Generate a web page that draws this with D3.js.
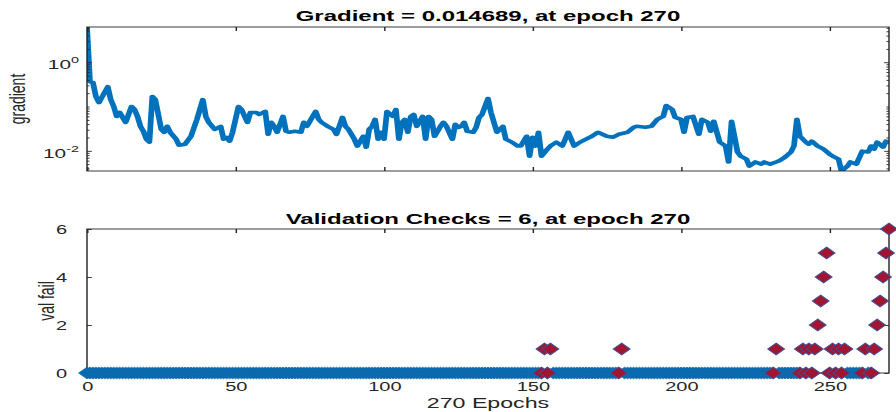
<!DOCTYPE html>
<html>
<head>
<meta charset="utf-8">
<script src="https://cdn.jsdelivr.net/npm/d3@7"></script>
<style>
  body { margin: 0; background: #fff; }
  svg { display: block; }
</style>
</head>
<body>
<script>
// gradient per epoch
const gradEpochs = [0, 1, 2, 3, 4, 7, 8, 9, 10, 11, 13, 15, 16, 17, 18, 19, 20, 21, 22, 23,
  25, 26, 27, 28, 30, 31, 33, 35, 37, 39, 40, 41, 43, 45, 46, 47, 48, 49, 51, 52,
  54, 55, 57, 58, 60, 61, 62, 63, 64, 66, 67, 68, 70, 72, 73, 74, 76, 77, 78, 79,
  81, 83, 84, 86, 87, 88, 90, 91, 93, 94, 95, 96, 97, 98, 99, 100, 101, 103, 104, 105,
  106, 107, 108, 109, 110, 111, 113, 114, 115, 116, 117, 118, 119, 120, 121, 123, 124, 125, 126, 127,
  128, 130, 131, 132, 133, 134, 135, 136, 137, 138, 140, 141, 143, 145, 146, 148, 149, 150, 151, 152,
  153, 155, 156, 158, 160, 161, 162, 164, 166, 168, 170, 172, 175, 177, 179, 182, 184, 185, 188, 190,
  192, 194, 195, 197, 198, 200, 201, 202, 204, 206, 207, 209, 210, 211, 213, 215, 216, 217, 219, 220,
  222, 223, 225, 227, 228, 230, 232, 233, 235, 237, 238, 239, 240, 242, 243, 244, 246, 248, 250, 251,
  253, 254, 256, 257, 259, 261, 263, 264, 265, 266, 268, 269, 270];
const gradValues = [6.25, 0.362, 0.35, 0.168, 0.123, 0.28, 0.143, 0.1, 0.0597, 0.0734, 0.0439, 0.1, 0.0857, 0.0597, 0.0357, 0.0276, 0.0183, 0.0157, 0.168, 0.143,
  0.0306, 0.0262, 0.0357, 0.0262, 0.0183, 0.0134, 0.0141, 0.0213, 0.0512, 0.143, 0.0597, 0.0439, 0.0306, 0.0357, 0.0183, 0.0202, 0.0165, 0.0262, 0.1, 0.0857,
  0.0439, 0.0734, 0.0734, 0.0662, 0.0773, 0.0236, 0.0439, 0.0357, 0.0262, 0.0597, 0.0276, 0.0262, 0.0276, 0.0262, 0.0439, 0.0357, 0.0597, 0.0773, 0.0512, 0.0439,
  0.0357, 0.0306, 0.0236, 0.0567, 0.0357, 0.0306, 0.0183, 0.0128, 0.0213, 0.0121, 0.0306, 0.0357, 0.0512, 0.0183, 0.0262, 0.0183, 0.0773, 0.0597, 0.0857, 0.0183,
  0.0439, 0.0512, 0.0262, 0.0597, 0.0662, 0.0357, 0.0597, 0.0183, 0.0597, 0.0512, 0.0213, 0.0276, 0.0357, 0.0439, 0.0357, 0.0183, 0.0396, 0.0339, 0.0357, 0.0439,
  0.0276, 0.0262, 0.0339, 0.0567, 0.0662, 0.1, 0.151, 0.0734, 0.0439, 0.0262, 0.0357, 0.0183, 0.0157, 0.0128, 0.0128, 0.0213, 0.0076, 0.0202, 0.0128, 0.0262,
  0.0076, 0.0109, 0.0128, 0.0157, 0.0128, 0.0183, 0.0262, 0.0128, 0.0157, 0.0183, 0.0213, 0.0262, 0.0213, 0.0202, 0.0236, 0.0262, 0.0339, 0.0357, 0.0339, 0.0357,
  0.0512, 0.0597, 0.105, 0.0857, 0.0567, 0.0512, 0.0262, 0.0567, 0.0597, 0.0236, 0.0512, 0.0439, 0.0276, 0.0462, 0.0157, 0.0128, 0.0056, 0.0462, 0.0094, 0.0076,
  0.0065, 0.0045, 0.0056, 0.005, 0.0056, 0.005, 0.0056, 0.0059, 0.0072, 0.0094, 0.0128, 0.0512, 0.0213, 0.0157, 0.0141, 0.0165, 0.0128, 0.0109, 0.0084, 0.0076,
  0.0065, 0.0035, 0.0045, 0.0056, 0.005, 0.0098, 0.0094, 0.0128, 0.0109, 0.0157, 0.0121, 0.0165, 0.0147];

// validation failures: every epoch not listed here is 0
const failEpochs = [154, 156, 180, 232, 241, 243, 245, 246, 247, 248, 249, 251, 253, 255, 262, 265, 266, 267, 268, 269, 270];
const failValues = [1, 1, 1, 1, 1, 1, 1, 2, 3, 4, 5, 1, 1, 1, 1, 1, 2, 3, 4, 5, 6];

const lastEpoch = 270;
const xTicks = [0, 50, 100, 150, 200, 250];
const gradTicks = [0.01, 1];
const failTicks = [0, 2, 4, 6];
const topTitle = "Gradient = 0.014689, at epoch 270";
const bottomTitle = "Validation Checks = 6, at epoch 270";
const xLabel = "270 Epochs";

const W = 896, H = 412;
const sx = 1.6; // the original figure is stretched sideways
const font = '"Liberation Sans", Arial, Helvetica, sans-serif';
const ink = "#262626";
const blue = "#0072BD", red = "#A2142F";

const svg = d3.select("body").append("svg")
  .attr("width", W)
  .attr("height", H)
  .style("font-family", font);
const root = svg.append("g").attr("transform", `scale(${sx},1)`);

const x = d3.scaleLinear().domain([0, lastEpoch]).range([87 / sx, 889 / sx]);
const [x0, x1] = x.range();
const midX = (x0 + x1) / 2;

const frame = (g, top, bottom) => g.append("rect")
  .attr("x", x0).attr("y", top)
  .attr("width", x1 - x0).attr("height", bottom - top)
  .attr("fill", "none").attr("stroke", ink).attr("stroke-width", 0.9);

const ticks = (g, axis, tr, size) => {
  const a = g.append("g").attr("transform", tr).call(axis);
  a.attr("font-family", font).attr("font-size", size || 12.5);
  a.select(".domain").remove();
  a.selectAll("line").attr("stroke", ink).attr("stroke-width", 0.9);
  a.selectAll("text").attr("fill", ink);
  return a;
};

// ---------- gradient panel ----------
const t1 = 27, b1 = 171;
const y1 = d3.scaleLog().domain(d3.extent(gradValues)).range([b1, t1]);
const g1 = root.append("g");

svg.append("defs").append("clipPath").attr("id", "clip1")
  .append("rect").attr("x", x0).attr("y", t1).attr("width", x1 - x0).attr("height", b1 - t1);

const line = d3.line()
  .x((d, i) => x(gradEpochs[i]))
  .y(d => y1(d));

g1.append("path")
  .datum(gradValues)
  .attr("clip-path", "url(#clip1)")
  .attr("d", line)
  .attr("fill", "none")
  .attr("stroke", blue)
  .attr("stroke-width", 3.6)
  .attr("stroke-linejoin", "round");

frame(g1, t1, b1);
ticks(g1, d3.axisBottom(x).tickValues(xTicks).tickSize(-4).tickFormat(""), `translate(0,${b1})`);
ticks(g1, d3.axisTop(x).tickValues(xTicks).tickSize(-4).tickFormat(""), `translate(0,${t1})`);

const minor = y1.ticks().filter(v => !gradTicks.includes(v));
ticks(g1, d3.axisLeft(y1).tickValues(minor).tickSize(-1.6).tickFormat(""), `translate(${x0},0)`);
ticks(g1, d3.axisLeft(y1).tickValues(gradTicks).tickSize(-3).tickFormat(""), `translate(${x0},0)`);
ticks(g1, d3.axisRight(y1).tickValues(minor).tickSize(-1.6).tickFormat(""), `translate(${x1},0)`);
ticks(g1, d3.axisRight(y1).tickValues(gradTicks).tickSize(-3).tickFormat(""), `translate(${x1},0)`);

g1.selectAll("text.pow")
  .data(gradTicks)
  .join("text")
  .attr("class", "pow")
  .attr("x", x0 - 5)
  .attr("y", d => y1(d) + 7)
  .attr("text-anchor", "end")
  .attr("font-size", 13)
  .attr("fill", ink)
  .each(function (d) {
    const t = d3.select(this);
    t.append("tspan").text("10");
    t.append("tspan").attr("dy", -6).attr("font-size", 9).text(Math.round(Math.log10(d)));
  });

g1.append("text")
  .attr("transform", `translate(15.5,${(t1 + b1) / 2}) rotate(-90)`)
  .attr("text-anchor", "middle")
  .attr("font-size", 14)
  .attr("fill", ink)
  .text("gradient");

g1.append("text")
  .attr("x", midX).attr("y", 21.5)
  .attr("text-anchor", "middle")
  .attr("font-size", 15).attr("font-weight", "bold")
  .attr("fill", "#000")
  .text(topTitle);

// ---------- validation checks panel ----------
const t2 = 229, b2 = 373;
const y2 = d3.scaleLinear().domain([0, 6]).range([b2, t2]);
const g2 = root.append("g");

frame(g2, t2, b2);
ticks(g2, d3.axisBottom(x).tickValues(xTicks).tickSize(-4).tickPadding(9), `translate(0,${b2})`);
ticks(g2, d3.axisTop(x).tickValues(xTicks).tickSize(-4).tickFormat(""), `translate(0,${t2})`);
ticks(g2, d3.axisLeft(y2).tickValues(failTicks).tickSize(-3).tickPadding(12.5).tickFormat(d3.format("d")), `translate(${x0},0)`);
ticks(g2, d3.axisRight(y2).tickValues(failTicks).tickSize(-3).tickFormat(""), `translate(${x1},0)`);

const fails = d3.range(0, lastEpoch + 1).map(e => {
  const k = failEpochs.indexOf(e);
  return { epoch: e, val: k < 0 ? 0 : failValues[k] };
});
fails.forEach((d, i) => {
  const next = fails[i + 1];
  d.hot = d.val > 0 || (next && next.val > 0);
});

const diamond = {
  draw(p, size) {
    const w = Math.sqrt(size) / 2, h = w * 1.12;
    p.moveTo(0, -h);
    p.lineTo(w, 0);
    p.lineTo(0, h);
    p.lineTo(-w, 0);
    p.closePath();
  }
};
const sym = d3.symbol().type(diamond).size(110);

g2.append("g").selectAll("path")
  .data(fails.filter(d => !d.hot))
  .join("path")
  .attr("transform", d => `translate(${x(d.epoch)},${y2(d.val)})`)
  .attr("d", sym)
  .attr("fill", blue)
  .attr("stroke", "#1b5e98")
  .attr("stroke-width", 0.6);

g2.append("g").selectAll("path")
  .data(fails.filter(d => d.hot))
  .join("path")
  .attr("transform", d => `translate(${x(d.epoch)},${y2(d.val)})`)
  .attr("d", sym)
  .attr("fill", red)
  .attr("stroke", "#3d4f95")
  .attr("stroke-width", 0.8);

g2.append("text")
  .attr("transform", `translate(34,${(t2 + b2) / 2}) rotate(-90)`)
  .attr("text-anchor", "middle")
  .attr("font-size", 14)
  .attr("fill", ink)
  .text("val fail");

g2.append("text")
  .attr("x", midX).attr("y", 224)
  .attr("text-anchor", "middle")
  .attr("font-size", 15).attr("font-weight", "bold")
  .attr("fill", "#000")
  .text(bottomTitle);

g2.append("text")
  .attr("x", midX).attr("y", 408)
  .attr("text-anchor", "middle")
  .attr("font-size", 14.5)
  .attr("fill", ink)
  .text(xLabel);
</script>
</body>
</html>
